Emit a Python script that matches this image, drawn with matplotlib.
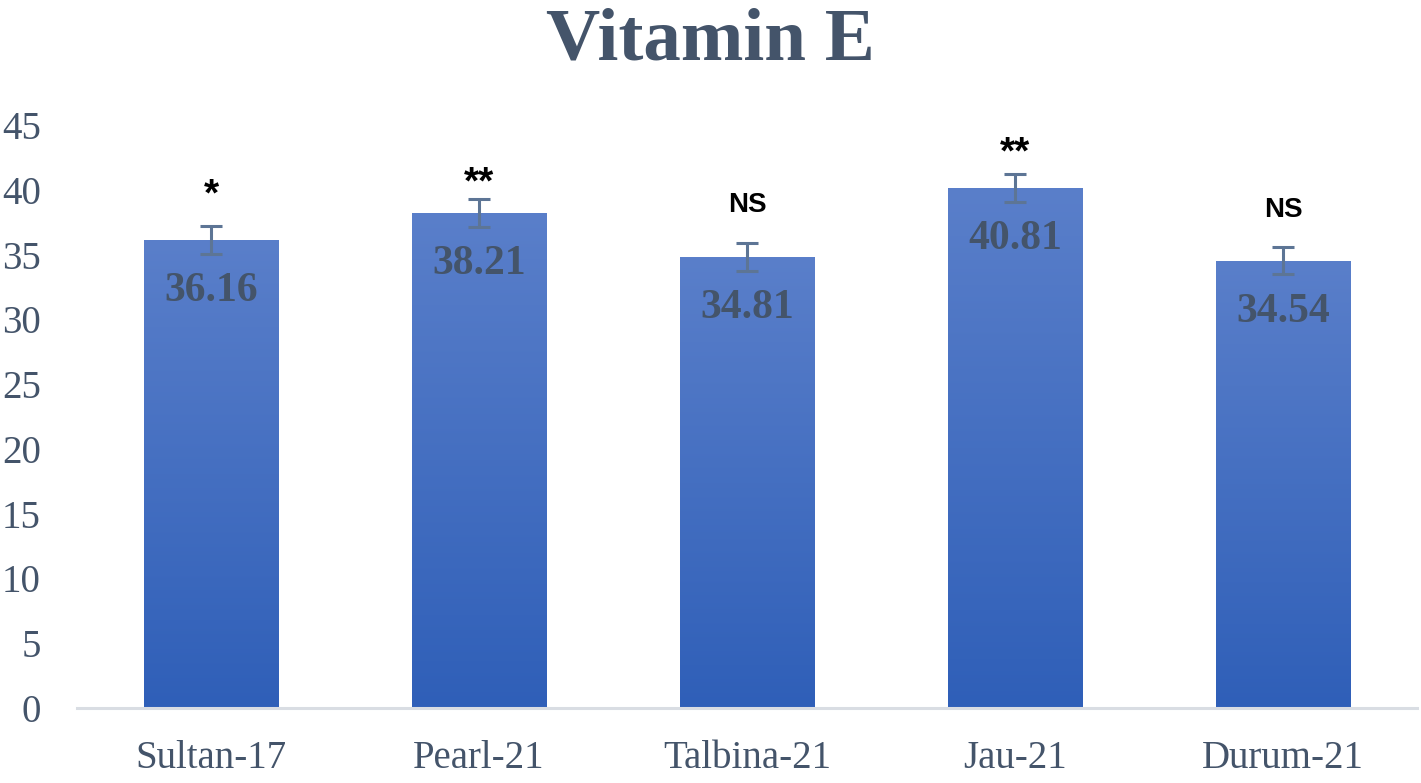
import numpy as np
import matplotlib.pyplot as plt
from matplotlib.colors import LinearSegmentedColormap

# data
varieties = ['Sultan-17', 'Pearl-21', 'Talbina-21', 'Jau-21', 'Durum-21']
bar_heights = [36.16, 38.21, 34.81, 40.14, 34.54]
value_labels = ['36.16', '38.21', '34.81', '40.81', '34.54']
errors = [1.08, 1.1, 1.05, 1.1, 1.05]
signif = ['*', '**', 'NS', '**', 'NS']

# layout of the significance marks (baseline, pixels above the error cap)
sig_offsets = [20, 5, 31, 10, 30]

text_col = '#44546a'
err_col = '#5d7595'

fig = plt.figure(figsize=(14.21, 7.83), dpi=100)
ax = fig.add_axes([77 / 1421, 1 - 708 / 783, 1340 / 1421, 583 / 783])

x = np.arange(len(varieties))
bars = ax.bar(x, bar_heights, width=0.503, color='none', edgecolor='none', zorder=2)

cmap = LinearSegmentedColormap.from_list('blu', ['#2f5fb8', '#5a7fca'])
grad = np.linspace(0, 1, 256).reshape(-1, 1)
for b in bars:
    x0, y0 = b.get_x(), b.get_y()
    w, h = b.get_width(), b.get_height()
    im = ax.imshow(grad, cmap=cmap, origin='lower', aspect='auto',
                   extent=[x0, x0 + w, y0, y0 + h], zorder=2)
    im.set_clip_path(b)

ax.errorbar(x, bar_heights, yerr=errors, fmt='none', ecolor=err_col,
            elinewidth=2.2, capsize=8, capthick=2.2, zorder=3)

for i in range(len(x)):
    ax.annotate(value_labels[i], (x[i], bar_heights[i]), xytext=(0, -61),
                textcoords='offset pixels', ha='center', va='baseline',
                fontsize=30, fontweight='bold', family='Liberation Serif',
                color=text_col, zorder=4)
    fs = 20 if signif[i] == 'NS' else 28
    ax.annotate(signif[i], (x[i], bar_heights[i] + errors[i]),
                xytext=(0, sig_offsets[i]), textcoords='offset pixels',
                ha='center', va='baseline', fontsize=fs, fontweight='bold',
                family='Liberation Sans', color='black')

ax.set_xlim(-0.5, len(varieties) - 0.5)
ax.set_ylim(0, 45)
ax.set_yticks(np.arange(0, 46, 5))
ax.set_xticks(x)
ax.set_xticklabels(varieties)
for lab in ax.get_xticklabels() + ax.get_yticklabels():
    lab.set_family('Liberation Serif')
    lab.set_fontsize(28)
    lab.set_color(text_col)
ax.tick_params(axis='both', length=0)
ax.tick_params(axis='y', pad=26)
ax.tick_params(axis='x', pad=23)

for s in ['top', 'right', 'left']:
    ax.spines[s].set_visible(False)
ax.spines['bottom'].set_color('#d9dde3')
ax.spines['bottom'].set_linewidth(2.2)

fig.text(0.5, 1 - 42 / 783, 'Vitamin E', ha='center', va='center',
         fontsize=54, fontweight='bold', family='Liberation Serif', color=text_col)

fig.savefig('out.png', dpi=100)
